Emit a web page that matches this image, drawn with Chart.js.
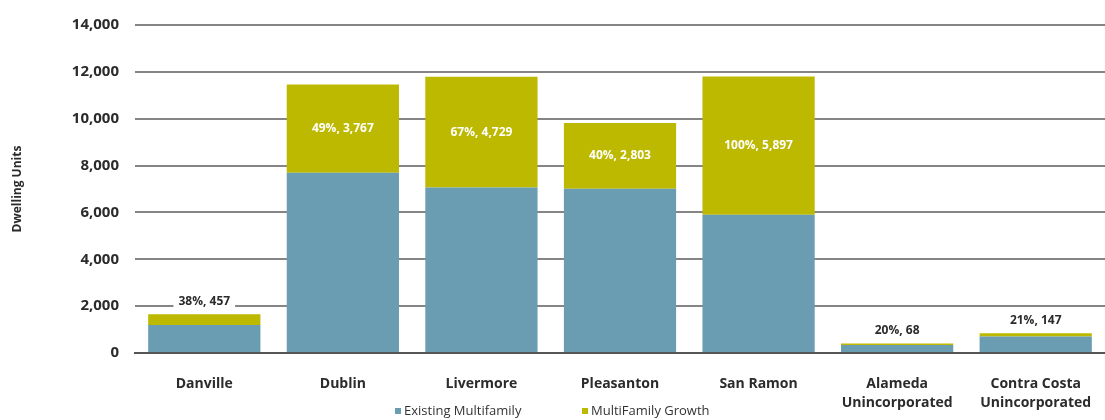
<!DOCTYPE html>
<html>
<head>
<meta charset="utf-8">
<script src="https://cdn.jsdelivr.net/npm/chart.js@4"></script>
<style>
  html, body { margin: 0; padding: 0; background: #fff; }
  #wrap { width: 1105px; height: 420px; position: relative; }
</style>
</head>
<body>
<div id="wrap"><canvas id="chart"></canvas></div>
<script>
// categories and series
const cities = ["Danville", "Dublin", "Livermore", "Pleasanton", "San Ramon",
  ["Alameda", "Unincorporated"], ["Contra Costa", "Unincorporated"]];
const existing = [1200, 7690, 7060, 7010, 5900, 340, 700];
const growth = [457, 3767, 4729, 2803, 5897, 68, 147];
const growthPct = [38, 49, 67, 40, 100, 20, 21];
const yTicks = [0, 2000, 4000, 6000, 8000, 10000, 12000, 14000];

const FONT = "'Open Sans', sans-serif";

// "pct%, value" labels: inside the growth segment for tall bars, above it for short ones
const growthLabels = {
  id: "growthLabels",
  afterDatasetsDraw(chart) {
    const ctx = chart.ctx;
    const meta = chart.getDatasetMeta(1);
    ctx.save();
    ctx.textAlign = "center";
    ctx.textBaseline = "middle";
    ctx.font = "bold 12px " + FONT;
    meta.data.forEach((bar, i) => {
      const text = growthPct[i] + "%, " + growth[i].toLocaleString("en-US");
      const segH = bar.base - bar.y;
      if (segH > 40) {
        ctx.fillStyle = "#ffffff";
        ctx.fillText(text, bar.x, (bar.y + bar.base) / 2);
      } else {
        const w = ctx.measureText(text).width;
        ctx.fillStyle = "#ffffff";
        ctx.fillRect(bar.x - w / 2 - 5, bar.y - 21, w + 10, 16);
        ctx.fillStyle = "#2b2b2b";
        ctx.fillText(text, bar.x, bar.y - 13);
      }
    });
    ctx.restore();
  }
};

// small legend under the axis labels
const bottomLegend = {
  id: "bottomLegend",
  afterDraw(chart) {
    const ctx = chart.ctx;
    const sets = chart.data.datasets;
    const startX = [395, 582];
    const y = 411;
    ctx.save();
    ctx.font = "13px " + FONT;
    ctx.textBaseline = "middle";
    ctx.textAlign = "left";
    sets.forEach((ds, i) => {
      ctx.fillStyle = ds.backgroundColor;
      ctx.fillRect(startX[i], y - 3, 6, 6);
      ctx.fillStyle = "#333";
      ctx.fillText(ds.label, startX[i] + 9, y);
    });
    ctx.restore();
  }
};

new Chart(document.getElementById("chart"), {
  type: "bar",
  data: {
    labels: cities,
    datasets: [
      {
        label: "Existing Multifamily",
        data: existing,
        backgroundColor: "#6a9db2",
        barPercentage: 0.9,
        categoryPercentage: 0.9
      },
      {
        label: "MultiFamily Growth",
        data: growth,
        backgroundColor: "#bdb900",
        barPercentage: 0.9,
        categoryPercentage: 0.9
      }
    ]
  },
  options: {
    responsive: true,
    maintainAspectRatio: false,
    animation: false,
    layout: { padding: { top: 14, right: 0, left: 4, bottom: 0 } },
    plugins: {
      legend: { display: false },
      tooltip: { enabled: false }
    },
    scales: {
      x: {
        stacked: true,
        afterFit(scale) { scale.height = 67; },
        grid: { display: false },
        border: { display: true, color: "#555", width: 2 },
        ticks: {
          color: "#2b2b2b",
          padding: 13,
          maxRotation: 0,
          font: { family: FONT, size: 14, weight: "bold", lineHeight: 1.4 }
        }
      },
      y: {
        stacked: true,
        min: 0,
        max: 14000,
        afterFit(scale) { scale.width = 131; },
        afterBuildTicks(scale) { scale.ticks = yTicks.map(v => ({ value: v })); },
        grid: { color: "#858585", lineWidth: 2, drawTicks: false },
        border: { display: false },
        title: {
          display: true,
          text: "Dwelling Units",
          color: "#2b2b2b",
          padding: { top: 6, bottom: 4 },
          font: { family: FONT, size: 12, weight: "bold" }
        },
        ticks: {
          color: "#2b2b2b",
          padding: 16,
          font: { family: FONT, size: 15, weight: "bold" },
          callback: v => v.toLocaleString("en-US")
        }
      }
    }
  },
  plugins: [growthLabels, bottomLegend]
});
</script>
</body>
</html>
